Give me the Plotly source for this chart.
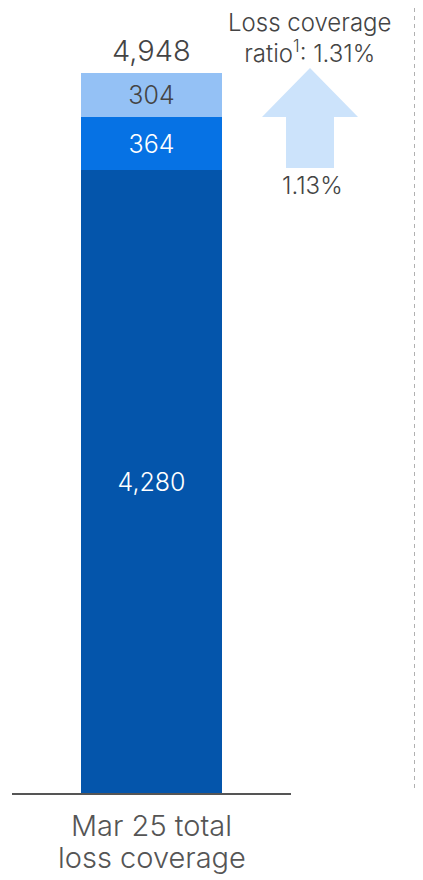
import plotly.graph_objects as go

categories = ["Mar 25 total loss coverage"]
category_lines = ["Mar 25 total", "loss coverage"]
base_values = [4280]
mid_values = [364]
top_values = [304]
total_values = [4948]
ratio_before = "1.13%"
ratio_after = "Loss coverage<br>ratio<sup>1</sup>: 1.31%"

OFF = 8  # page body margin
W, H = 423 - OFF, 880 - OFF
# screen-pixel plot area: x 12..291, y 20..793
L, R, T, B = 12 - OFF, W - (291 - OFF), 20 - OFF, H - (793 - OFF)
PW, PH = W - L - R, H - T - B

def px(x):
    return (x - OFF - L) / PW

def py(y):
    return (H - B - (y - OFF)) / PH

FONT = "Inter, Liberation Sans, Arial, sans-serif"
DARK_TXT = "#444444"

def f(size, color=DARK_TXT):
    return dict(size=size, color=color, family=FONT, weight=300)

fig = go.Figure()
fig.add_trace(go.Bar(x=categories, y=base_values, marker_color="#0455ab",
                     text=[f"{v:,}" for v in base_values], textposition="inside",
                     insidetextanchor="middle", textfont=f(25, "white"),
                     width=0.505, marker_line_width=0))
fig.add_trace(go.Bar(x=categories, y=mid_values, marker_color="#0672e4",
                     text=[f"{v:,}" for v in mid_values], textposition="inside",
                     insidetextanchor="middle", textfont=f(25, "white"),
                     width=0.505, marker_line_width=0))
fig.add_trace(go.Bar(x=categories, y=top_values, marker_color="#94c1f5",
                     text=[f"{v:,}" for v in top_values], textposition="inside",
                     insidetextanchor="middle", textfont=f(25),
                     width=0.505, marker_line_width=0))

ymax = PH / 0.1455

fig.update_layout(
    width=W, height=H, barmode="stack", showlegend=False,
    margin=dict(l=L, r=R, t=T, b=B),
    plot_bgcolor="white", paper_bgcolor="white",
    uniformtext=dict(mode="show", minsize=10),
    xaxis=dict(range=[-0.5, 0.5], showline=True, linecolor="#555555", linewidth=2,
               showticklabels=False, ticks="", showgrid=False, zeroline=False),
    yaxis=dict(range=[0, ymax], visible=False, showgrid=False, zeroline=False),
)

# total label
fig.add_annotation(x=categories[0], y=total_values[0], text=f"{total_values[0]:,}",
                   showarrow=False, yanchor="bottom", yshift=3, font=f(29))

# category label (two lines, tight spacing)
for line, yc in zip(category_lines, [825, 857]):
    fig.add_annotation(x=categories[0], y=py(yc), yref="paper", text=line,
                       showarrow=False, yanchor="middle", font=f(29, "#555555"))

# arrow shape
pts = [(310, 68), (358, 117), (334, 117), (334, 168), (286, 168), (286, 117), (262, 117)]
path = "M " + " L ".join(f"{px(x)},{py(y)}" for x, y in pts) + " Z"
fig.add_shape(type="path", path=path, xref="paper", yref="paper",
              fillcolor="#cce3fb", line=dict(width=0), layer="below")

fig.add_annotation(x=px(312), y=py(186), xref="paper", yref="paper", text=ratio_before,
                   showarrow=False, xanchor="center", yanchor="middle", font=f(24))
fig.add_annotation(x=px(309), y=py(38), xref="paper", yref="paper", text=ratio_after,
                   showarrow=False, xanchor="center", yanchor="middle", font=f(24))

# dotted divider
fig.add_shape(type="line", xref="paper", yref="paper", x0=px(416), x1=px(416),
              y0=py(0), y1=py(790), line=dict(color="#b0b0b0", width=4, dash="4px,4px"))

fig.write_html("out.html")
